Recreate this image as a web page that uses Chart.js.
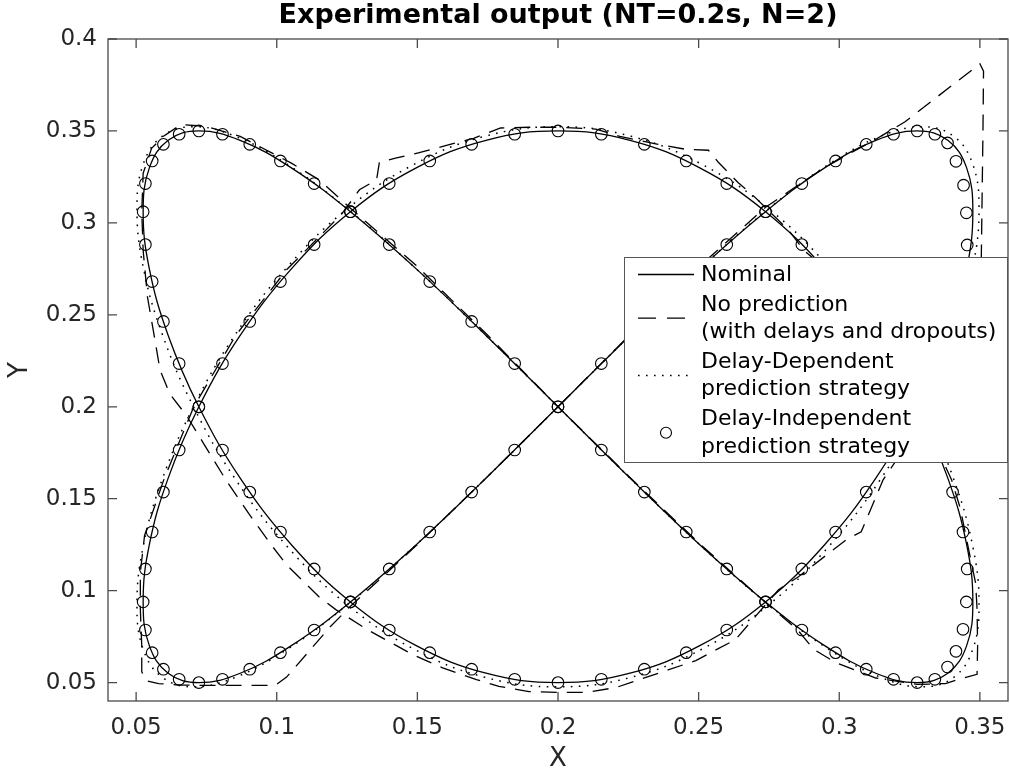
<!DOCTYPE html>
<html>
<head>
<meta charset="utf-8">
<script src="https://cdn.jsdelivr.net/npm/chart.js@4.4.1/dist/chart.umd.min.js"></script>
<style>
html,body{margin:0;padding:0;background:#fff;}
#wrap{width:1010px;height:778px;position:relative;}
</style>
</head>
<body>
<div id="wrap"><canvas id="c" width="1010" height="778"></canvas></div>
<script>
// ---------- data ----------
const chartTitle = 'Experimental output (NT=0.2s, N=2)';
const xAxisTitle = 'X';
const yAxisTitle = 'Y';
const seriesLabels = ['Nominal', 'No prediction\n(with delays and dropouts)', 'Delay-Dependent\nprediction strategy', 'Delay-Independent\nprediction strategy'];

const xTickValues = [0.05, 0.1, 0.15, 0.2, 0.25, 0.3, 0.35];
const xTickLabels = ['0.05', '0.1', '0.15', '0.2', '0.25', '0.3', '0.35'];
const yTickValues = [0.05, 0.1, 0.15, 0.2, 0.25, 0.3, 0.35, 0.4];
const yTickLabels = ['0.05', '0.1', '0.15', '0.2', '0.25', '0.3', '0.35', '0.4'];

// Nominal trajectory
const nominalX = [
  0.2000,0.2256,0.2504,0.2738,0.2948,0.3130,0.3277,0.3386,0.3453,0.3475,0.3453,0.3386,0.3277,0.3130,0.2948,0.2738,0.2504,0.2256,
  0.2000,0.1744,0.1496,0.1262,0.1052,0.0870,0.0723,0.0614,0.0547,0.0525,0.0547,0.0614,0.0723,0.0870,0.1052,0.1262,0.1496,0.1744,
  0.2000,0.2256,0.2504,0.2738,0.2948,0.3130,0.3277,0.3386,0.3453,0.3475,0.3453,0.3386,0.3277,0.3130,0.2948,0.2738,0.2504,0.2256,
  0.2000,0.1744,0.1496,0.1262,0.1052,0.0870,0.0723,0.0614,0.0547,0.0525,0.0547,0.0614,0.0723,0.0870,0.1052,0.1262,0.1496,0.1744,
  0.2000
];
const nominalY = [
  0.2000,0.2388,0.2750,0.3061,0.3299,0.3449,0.3500,0.3449,0.3299,0.3061,0.2750,0.2388,
  0.2000,0.1612,0.1250,0.0939,0.0701,0.0551,0.0500,0.0551,0.0701,0.0939,0.1250,0.1612,
  0.2000,0.2388,0.2750,0.3061,0.3299,0.3449,0.3500,0.3449,0.3299,0.3061,0.2750,0.2388,
  0.2000,0.1612,0.1250,0.0939,0.0701,0.0551,0.0500,0.0551,0.0701,0.0939,0.1250,0.1612,
  0.2000,0.2388,0.2750,0.3061,0.3299,0.3449,0.3500,0.3449,0.3299,0.3061,0.2750,0.2388,
  0.2000,0.1612,0.1250,0.0939,0.0701,0.0551,0.0500,0.0551,0.0701,0.0939,0.1250,0.1612,
  0.2000
];

// No prediction (with delays and dropouts)
const noPredX = [
  0.2000,0.2256,0.2504,0.2738,0.2948,0.3130,0.3234,0.3500,0.3513,0.3511,0.3508,0.3505,0.3500,0.3440,0.3300,
  0.3156,0.3078,0.3025,0.2855,0.2784,0.2631,0.2490,0.2394,0.2287,0.2206,0.2100,0.2000,0.1897,0.1790,0.1710,
  0.1590,0.1480,0.1320,0.1210,0.1150,0.1035,0.0975,0.0900,0.0820,0.0740,0.0680,0.0620,0.0585,0.0565,0.0540,
  0.0525,0.0520,0.0525,0.0555,0.0596,0.0660,0.0750,0.0870,0.1052,0.1150,0.1262,0.1496,0.1744,0.2000,0.2256,
  0.2504,0.2738,0.2850,0.2910,0.2986,0.3130,0.3277,0.3378,0.3440,0.3490,0.3492,0.3490,0.3485,0.3470,0.3430,
  0.3400,0.3370,0.3300,0.3150,0.2960,0.2875,0.2820,0.2700,0.2640,0.2570,0.2535,0.2454,0.2347,0.2220,0.2135,
  0.2000,0.1900,0.1796,0.1700,0.1600,0.1500,0.1426,0.1365,0.1355,0.1294,0.1232,0.1035,0.0855,0.0705,0.0600,
  0.0530,0.0515,0.0515,0.0520,0.0520,0.0535,0.0580,0.0650,0.0750,0.0870,0.0995,0.1035,0.1188,0.1262,0.1496,
  0.1744,0.2000
];
const noPredY = [
  0.2000,0.2392,0.2765,0.3085,0.3302,0.3455,0.3550,0.3865,0.3825,0.3500,0.3150,0.2800,0.2500,0.2200,0.1930,
  0.1603,0.1320,0.1277,0.1076,0.1005,0.0734,0.0620,0.0570,0.0516,0.0473,0.0447,0.0447,0.0451,0.0480,0.0516,
  0.0580,0.0655,0.0790,0.0897,0.0967,0.1140,0.1260,0.1420,0.1600,0.1800,0.1950,0.2070,0.2200,0.2380,0.2600,
  0.2850,0.3060,0.3270,0.3405,0.3470,0.3535,0.3525,0.3470,0.3325,0.3235,0.3080,0.2768,0.2398,0.2000,0.1615,
  0.1255,0.0935,0.0790,0.0680,0.0610,0.0525,0.0490,0.0495,0.0525,0.0545,0.0700,0.0900,0.1040,0.1150,0.1450,
  0.1600,0.1700,0.2000,0.2400,0.2740,0.2850,0.2960,0.3140,0.3220,0.3330,0.3395,0.3400,0.3430,0.3470,0.3510,
  0.3520,0.3520,0.3516,0.3460,0.3420,0.3380,0.3353,0.3330,0.3234,0.3180,0.3050,0.2745,0.2390,0.2000,0.1610,
  0.1300,0.1100,0.0900,0.0700,0.0560,0.0510,0.0495,0.0487,0.0485,0.0485,0.0485,0.0530,0.0800,0.0915,0.1245,
  0.1612,0.2000
];

// Delay-Dependent prediction strategy
const delayDepX = [
  0.2000,0.2260,0.2512,0.2749,0.2962,0.3147,0.3296,0.3407,0.3475,0.3497,0.3475,0.3407,0.3296,0.3147,0.2962,0.2749,0.2512,0.2260,
  0.2000,0.1740,0.1488,0.1251,0.1038,0.0853,0.0704,0.0593,0.0525,0.0503,0.0525,0.0593,0.0704,0.0853,0.1038,0.1251,0.1488,0.1740,
  0.2000,0.2260,0.2512,0.2749,0.2962,0.3147,0.3296,0.3407,0.3475,0.3497,0.3475,0.3407,0.3296,0.3147,0.2962,0.2749,0.2512,0.2260,
  0.2000,0.1740,0.1488,0.1251,0.1038,0.0853,0.0704,0.0593,0.0525,0.0503,0.0525,0.0593,0.0704,0.0853,0.1038,0.1251,0.1488,0.1740,
  0.2000
];
const delayDepY = [
  0.2000,0.2394,0.2761,0.3077,0.3318,0.3471,0.3523,0.3471,0.3318,0.3077,0.2761,0.2394,
  0.2000,0.1606,0.1239,0.0923,0.0682,0.0529,0.0477,0.0529,0.0682,0.0923,0.1239,0.1606,
  0.2000,0.2394,0.2761,0.3077,0.3318,0.3471,0.3523,0.3471,0.3318,0.3077,0.2761,0.2394,
  0.2000,0.1606,0.1239,0.0923,0.0682,0.0529,0.0477,0.0529,0.0682,0.0923,0.1239,0.1606,
  0.2000,0.2394,0.2761,0.3077,0.3318,0.3471,0.3523,0.3471,0.3318,0.3077,0.2761,0.2394,
  0.2000,0.1606,0.1239,0.0923,0.0682,0.0529,0.0477,0.0529,0.0682,0.0923,0.1239,0.1606,
  0.2000
];

// Delay-Independent prediction strategy (sampled markers)
const delayIndX = [
  0.2000,0.2154,0.2307,0.2456,0.2600,0.2738,0.2867,0.2987,0.3096,0.3193,0.3277,0.3340,0.3385,0.3415,0.3442,0.3452,0.3455,0.3440,0.3403,0.3347,
  0.3277,0.3193,0.3096,0.2987,0.2867,0.2738,0.2600,0.2456,0.2307,0.2154,0.2000,0.1846,0.1693,0.1544,0.1400,0.1262,0.1133,0.1013,0.0904,0.0807,
  0.0723,0.0653,0.0597,0.0557,0.0533,0.0525,0.0533,0.0557,0.0597,0.0653,0.0723,0.0807,0.0904,0.1013,0.1133,0.1262,0.1400,0.1544,0.1693,0.1846,
  0.2000,0.2154,0.2307,0.2456,0.2600,0.2738,0.2867,0.2987,0.3096,0.3193,0.3277,0.3340,0.3385,0.3415,0.3440,0.3452,0.3455,0.3440,0.3403,0.3347,
  0.3277,0.3193,0.3096,0.2987,0.2867,0.2738,0.2600,0.2456,0.2307,0.2154,0.2000,0.1846,0.1693,0.1544,0.1400,0.1262,0.1133,0.1013,0.0904,0.0807,
  0.0723,0.0653,0.0597,0.0557,0.0533,0.0525,0.0533,0.0557,0.0597,0.0653,0.0723,0.0807,0.0904,0.1013,0.1133,0.1262,0.1400,0.1544,0.1693,0.1846
];
const delayIndY = [
  0.2000,0.2235,0.2464,0.2681,0.2882,0.3061,0.3214,0.3337,0.3427,0.3482,0.3500,0.3482,0.3435,0.3335,0.3205,0.3055,0.2880,0.2681,0.2464,0.2235,
  0.2000,0.1765,0.1536,0.1319,0.1118,0.0939,0.0786,0.0663,0.0573,0.0518,0.0500,0.0518,0.0573,0.0663,0.0786,0.0939,0.1118,0.1319,0.1536,0.1765,
  0.2000,0.2235,0.2464,0.2681,0.2882,0.3061,0.3214,0.3337,0.3427,0.3482,0.3500,0.3482,0.3427,0.3337,0.3214,0.3061,0.2882,0.2681,0.2464,0.2235,
  0.2000,0.1765,0.1536,0.1319,0.1118,0.0939,0.0786,0.0663,0.0573,0.0518,0.0500,0.0518,0.0585,0.0670,0.0790,0.0939,0.1118,0.1319,0.1536,0.1765,
  0.2000,0.2235,0.2464,0.2681,0.2882,0.3061,0.3214,0.3337,0.3427,0.3482,0.3500,0.3482,0.3427,0.3337,0.3214,0.3061,0.2882,0.2681,0.2464,0.2235,
  0.2000,0.1765,0.1536,0.1319,0.1118,0.0939,0.0786,0.0663,0.0573,0.0518,0.0500,0.0518,0.0573,0.0663,0.0786,0.0939,0.1118,0.1319,0.1536,0.1765
];

// ---------- chart ----------
const FONT = 'DejaVu Sans';
const toPoints = (xs, ys) => xs.map((x, i) => ({x: x, y: ys[i]}));

const styles = [
  {borderDash: [], borderWidth: 1.3},
  {borderDash: [16, 10], borderWidth: 1.3},
  {borderDash: [1.6, 6.4], borderWidth: 1.5},
  {}
];

const frameAndLegend = {
  id: 'frameAndLegend',
  afterDraw(chart) {
    const ctx = chart.ctx;
    const {left, right, top, bottom} = chart.chartArea;
    const xs = chart.scales.x, ys = chart.scales.y;
    ctx.save();
    // axes box with inward ticks
    ctx.strokeStyle = '#4a4a4a';
    ctx.lineWidth = 1.3;
    ctx.strokeRect(left, top, right - left, bottom - top);
    ctx.beginPath();
    xTickValues.forEach(v => {
      const p = xs.getPixelForValue(v);
      ctx.moveTo(p, bottom); ctx.lineTo(p, bottom - 9);
      ctx.moveTo(p, top); ctx.lineTo(p, top + 9);
    });
    yTickValues.forEach(v => {
      const p = ys.getPixelForValue(v);
      ctx.moveTo(left, p); ctx.lineTo(left + 9, p);
      ctx.moveTo(right, p); ctx.lineTo(right - 9, p);
    });
    ctx.stroke();

    // legend box
    const lw = 384, lh = 206;
    const lx = right - lw, ly = top + 218;
    ctx.fillStyle = '#ffffff';
    ctx.fillRect(lx, ly, lw, lh);
    ctx.strokeStyle = '#555555';
    ctx.lineWidth = 1;
    ctx.strokeRect(lx + 0.5, ly + 0.5, lw - 1, lh - 1);

    ctx.font = '22px "' + FONT + '"';
    ctx.textBaseline = 'middle';
    ctx.textAlign = 'left';
    let y = ly + 18;
    chart.data.datasets.forEach((ds, i) => {
      const lines = ds.label.split('\n');
      const ys0 = [];
      lines.forEach(t => {
        ctx.fillStyle = '#000';
        ctx.fillText(t, lx + 77, y);
        ys0.push(y);
        y += 27.3;
      });
      y += 2.7;
      const cy = (ys0[0] + ys0[ys0.length - 1]) / 2 - 0.5;
      ctx.strokeStyle = '#000';
      if (i === 3) {
        ctx.setLineDash([]);
        ctx.lineWidth = 1.1;
        ctx.beginPath();
        ctx.arc(lx + 42, cy, 5.5, 0, Math.PI * 2);
        ctx.stroke();
      } else {
        ctx.lineWidth = styles[i].borderWidth;
        ctx.setLineDash(i === 1 ? [18, 11] : styles[i].borderDash);
        ctx.beginPath();
        ctx.moveTo(lx + 14, cy);
        ctx.lineTo(lx + (i === 1 ? 63 : 70), cy);
        ctx.stroke();
        ctx.setLineDash([]);
      }
    });
    ctx.restore();
  }
};

const tickFont = {family: FONT, size: 23};
const labelFont = {family: FONT, size: 26};

new Chart(document.getElementById('c'), {
  type: 'scatter',
  data: {
    datasets: [
      {label: seriesLabels[0], data: toPoints(nominalX, nominalY), showLine: true, borderColor: '#000', borderWidth: 1.3,
       pointRadius: 0, tension: 0.4, fill: false},
      {label: seriesLabels[1], data: toPoints(noPredX, noPredY), showLine: true, borderColor: '#000', borderWidth: 1.3,
       borderDash: [16, 10], pointRadius: 0, tension: 0, fill: false},
      {label: seriesLabels[2], data: toPoints(delayDepX, delayDepY), showLine: true, borderColor: '#000', borderWidth: 1.5,
       borderDash: [1.6, 6.4], pointRadius: 0, tension: 0.4, fill: false},
      {label: seriesLabels[3], data: toPoints(delayIndX, delayIndY), showLine: false, borderColor: '#000', borderWidth: 1.1,
       backgroundColor: 'rgba(0,0,0,0)', pointStyle: 'circle', pointRadius: 5.8, pointHoverRadius: 5.8}
    ]
  },
  options: {
    responsive: false,
    animation: false,
    devicePixelRatio: 1,
    events: [],
    layout: {autoPadding: false, padding: {left: 0, right: 2, top: 0, bottom: 0}},
    plugins: {
      legend: {display: false},
      tooltip: {enabled: false},
      title: {display: true, text: chartTitle, color: '#000', fullSize: false,
              font: {family: FONT, size: 27, weight: 'bold', lineHeight: 1.2},
              padding: {top: 0, bottom: 6.6}}
    },
    scales: {
      x: {
        type: 'linear', min: 0.04, max: 0.36,
        afterBuildTicks: s => { s.ticks = xTickValues.map(v => ({value: v})); },
        afterFit: s => { s.height = 77; s.paddingLeft = 0; s.paddingRight = 0; },
        ticks: {callback: (v) => xTickLabels[xTickValues.indexOf(v)] ?? '', font: tickFont, color: '#262626',
                padding: 13, maxRotation: 0, autoSkip: false},
        grid: {display: false, drawTicks: false},
        border: {display: false},
        title: {display: true, text: xAxisTitle, font: labelFont, color: '#262626', padding: {top: 0, bottom: 3}}
      },
      y: {
        type: 'linear', min: 0.04, max: 0.4,
        afterBuildTicks: s => { s.ticks = yTickValues.map(v => ({value: v})); },
        afterFit: s => { s.width = 108; s.paddingTop = 0; s.paddingBottom = 0; },
        ticks: {callback: (v) => yTickLabels[yTickValues.indexOf(v)] ?? '', font: tickFont, color: '#262626',
                padding: 11, autoSkip: false},
        grid: {display: false, drawTicks: false},
        border: {display: false},
        title: {display: true, text: yAxisTitle, font: labelFont, color: '#262626', padding: {top: 5, bottom: 0}}
      }
    }
  },
  plugins: [frameAndLegend]
});
</script>
</body>
</html>
